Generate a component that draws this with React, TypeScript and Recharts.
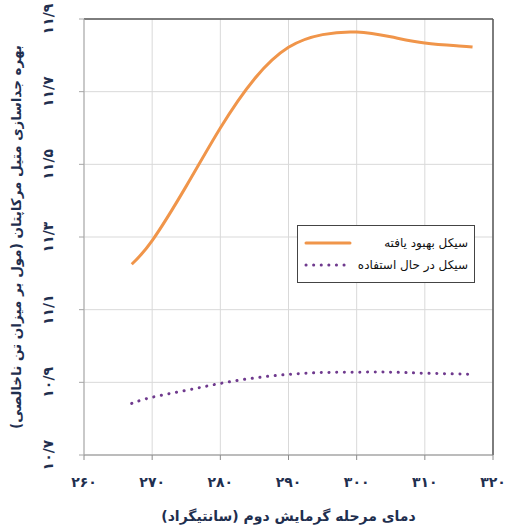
import {
  CartesianGrid,
  Line,
  LineChart,
  ReferenceLine,
  XAxis,
  YAxis,
} from "recharts";

const temps = [267, 270, 275, 280, 285, 290, 295, 300, 305, 310, 315, 317];
const improved = [11.225, 11.29, 11.44, 11.6, 11.735, 11.822, 11.857, 11.864, 11.851, 11.834, 11.826, 11.823];
const current = [10.842, 10.859, 10.878, 10.897, 10.912, 10.922, 10.927, 10.928, 10.928, 10.925, 10.923, 10.922];

const xTicks = [260, 270, 280, 290, 300, 310, 320];
const xTickLabels = ["۲۶۰", "۲۷۰", "۲۸۰", "۲۹۰", "۳۰۰", "۳۱۰", "۳۲۰"];
const yTicks = [10.7, 10.9, 11.1, 11.3, 11.5, 11.7, 11.9];
const yTickLabels = ["۱۰/۷", "۱۰/۹", "۱۱/۱", "۱۱/۳", "۱۱/۵", "۱۱/۷", "۱۱/۹"];

const improvedName = "سیکل بهبود یافته";
const currentName = "سیکل در حال استفاده";
const xTitle = "دمای مرحله گرمایش دوم (سانتیگراد)";
const yTitle = "بهره جداسازی متیل مرکاپتان (مول بر میزان تن ناخالصی)";

const data = temps.map((t, i) => ({ t, improved: improved[i], current: current[i] }));

const FONT = "'DejaVu Sans', sans-serif";
const ORANGE = "#f0954a";
const PURPLE = "#6f3a8e";
const INK = "#1f2f4f";

function XTick({ x, y, payload }: any) {
  const i = xTicks.indexOf(payload.value);
  return (
    <text x={x} y={y + 20} textAnchor="middle" dominantBaseline="central" fontFamily={FONT} fontWeight="bold" fontSize={14} fill={INK}>
      {xTickLabels[i]}
    </text>
  );
}

function YTick({ x, y, payload }: any) {
  const i = yTicks.findIndex((v) => Math.abs(v - payload.value) < 1e-6);
  return (
    <text transform={`translate(${x - 29}, ${y}) rotate(-90)`} textAnchor="middle" dominantBaseline="central" fontFamily={FONT} fontWeight="bold" fontSize={14} fill={INK}>
      {yTickLabels[i]}
    </text>
  );
}

function LegendBox() {
  const rows = [
    { name: improvedName, color: ORANGE, dash: undefined },
    { name: currentName, color: PURPLE, dash: "0.1 7.5" },
  ];
  return (
    <div style={{ position: "absolute", left: 297, top: 225, border: "1.5px solid #444", background: "#fff", width: 178, height: 58, boxSizing: "border-box", padding: "6px 6px", fontFamily: FONT, fontSize: 12, color: "#111" }}>
      {rows.map((r) => (
        <div key={r.name} style={{ display: "flex", alignItems: "center", justifyContent: "space-between", height: 22 }}>
          <svg width={48} height={8}>
            <line x1={2} y1={4} x2={46} y2={4} stroke={r.color} strokeWidth={3} strokeLinecap="round" strokeDasharray={r.dash} />
          </svg>
          <span dir="rtl">{r.name}</span>
        </div>
      ))}
    </div>
  );
}

export default function App() {
  return (
    <div style={{ position: "absolute", left: 0, top: 0, width: 508, height: 525, background: "#fff" }}>
      <LineChart width={508} height={525} data={data} margin={{ top: 19, right: 15, left: 0, bottom: 0 }}>
        <CartesianGrid stroke="#d9d9d9" strokeWidth={1} />
        <XAxis
          dataKey="t"
          type="number"
          domain={[260, 320]}
          ticks={xTicks}
          height={70}
          tickSize={5}
          stroke="#8c8c8c"
          tick={<XTick />}
          label={{ value: xTitle, position: "insideBottom", offset: 4, fontFamily: FONT, fontWeight: "bold", fontSize: 14, fill: INK, direction: "rtl" } as any}
        />
        <YAxis
          type="number"
          domain={[10.7, 11.9]}
          ticks={yTicks}
          width={84}
          tickSize={5}
          stroke="#a6a6a6"
          tick={<YTick />}
          label={{ value: yTitle, angle: -90, position: "insideLeft", offset: 16, fontFamily: FONT, fontWeight: "bold", fontSize: 13.5, fill: INK, direction: "rtl", style: { textAnchor: "middle" } } as any}
        />
        <ReferenceLine y={11.9} stroke="#595959" strokeWidth={1.5} />
        <ReferenceLine x={320} stroke="#595959" strokeWidth={1.5} />
        <Line
          type="natural"
          dataKey="improved"
          name={improvedName}
          stroke={ORANGE}
          strokeWidth={3}
          dot={false}
          isAnimationActive={false}
        />
        <Line
          type="natural"
          dataKey="current"
          name={currentName}
          stroke={PURPLE}
          strokeWidth={3}
          strokeLinecap="round"
          strokeDasharray="0.1 7.6"
          dot={false}
          isAnimationActive={false}
        />
      </LineChart>
      <LegendBox />
    </div>
  );
}
